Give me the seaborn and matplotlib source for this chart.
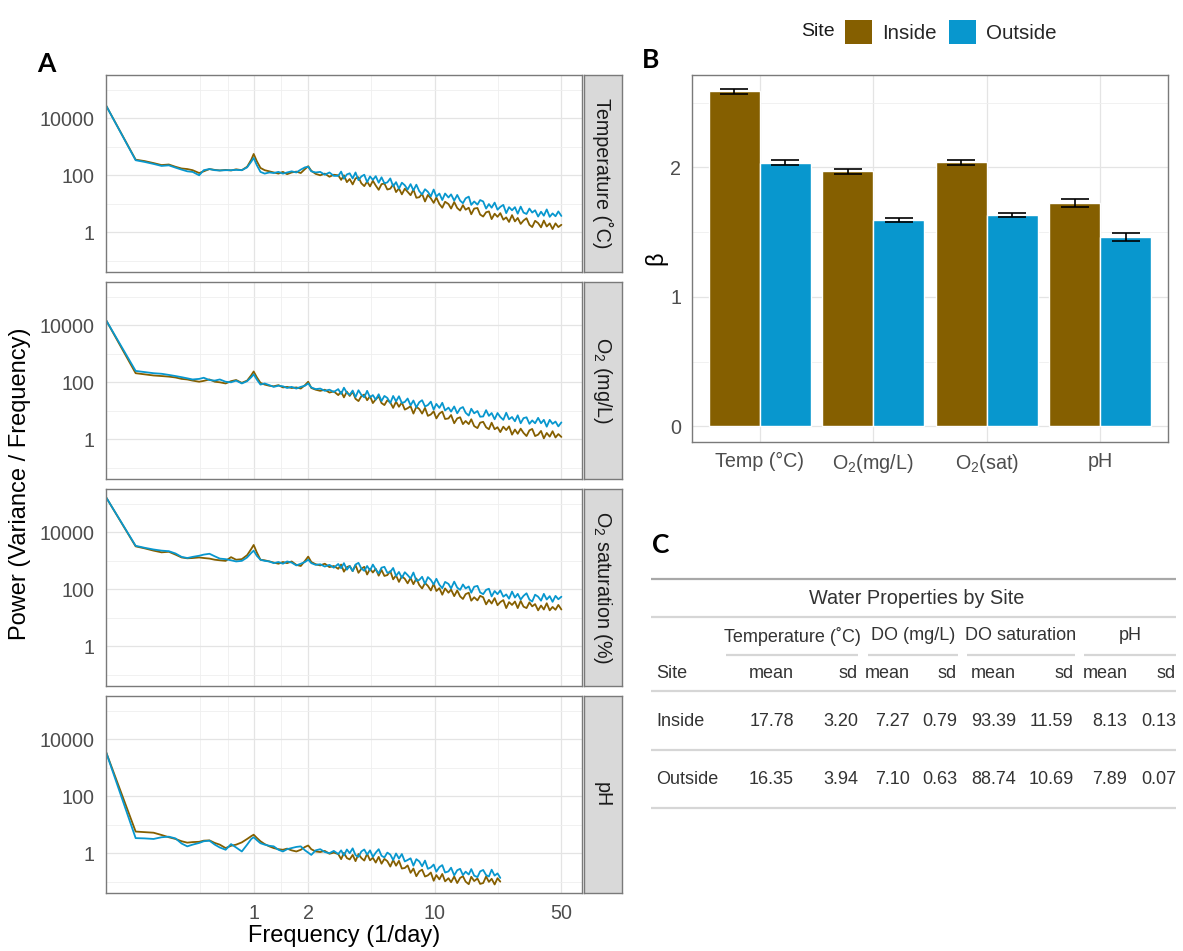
import numpy as np
import pandas as pd
import matplotlib
matplotlib.use("Agg")
import matplotlib.pyplot as plt
from matplotlib.patches import Patch
from matplotlib.ticker import FixedLocator, FixedFormatter, NullFormatter
import seaborn as sns

sns.set_theme(style="white")
plt.rcParams["font.family"] = ["Liberation Sans", "DejaVu Sans"]
plt.rcParams["mathtext.fontset"] = "custom"
plt.rcParams["mathtext.rm"] = "Liberation Sans"
plt.rcParams["mathtext.it"] = "Liberation Sans:italic"
plt.rcParams["mathtext.bf"] = "Liberation Sans:bold"

INSIDE = "#855F00"
OUTSIDE = "#0897CE"
SITES = ["Inside", "Outside"]

# ---------------------------------------------------------------- spectra
# frequency grid (1/day)
freq = [0.152, 0.223, 0.25, 0.28, 0.31, 0.34, 0.37, 0.40, 0.43, 0.46,
        0.50, 0.53, 0.57, 0.61, 0.65, 0.70, 0.75, 0.80, 0.86, 0.92,
        0.97, 1.00, 1.04, 1.09, 1.15, 1.22, 1.29, 1.37, 1.45, 1.53,
        1.62, 1.72, 1.82, 1.92, 2.00, 2.08, 2.20, 2.33, 2.47, 2.62,
        2.77,
        2.93, 3.04, 3.15, 3.27, 3.39, 3.52, 3.65, 3.79, 3.93, 4.08,
        4.23, 4.39, 4.55, 4.72, 4.90, 5.08, 5.27, 5.47, 5.68, 5.89,
        6.11, 6.34, 6.58, 6.83, 7.08, 7.35, 7.62, 7.91, 8.21, 8.51,
        8.83, 9.16, 9.51, 9.86, 10.2, 10.6, 11.0, 11.4, 11.9, 12.3,
        12.8, 13.3, 13.8, 14.3, 14.8, 15.4, 15.9, 16.5, 17.2, 17.8,
        18.5, 19.2, 19.9, 20.6, 21.4, 22.2, 23.0, 23.9, 24.8, 25.7,
        26.7, 27.7, 28.7, 29.8, 30.9, 32.1, 33.3, 34.5, 35.8, 37.2,
        38.6, 40.0, 41.5, 43.1, 44.7, 46.4, 48.1, 50.0]

# log10 of power (variance / frequency)
temp_inside = [4.49, 2.55, 2.50, 2.43, 2.36, 2.38, 2.30, 2.24, 2.22, 2.18,
               2.08, 2.14, 2.22, 2.19, 2.17, 2.19, 2.17, 2.21, 2.18, 2.30,
               2.55, 2.75, 2.50, 2.26, 2.18, 2.14, 2.10, 2.06, 2.12, 2.04,
               2.10, 2.13, 2.08, 2.22, 2.32, 2.16, 2.05, 2.00, 2.06, 1.95,
               2.02,
               2.00, 1.84, 2.00, 1.76, 1.87, 1.68, 1.89, 1.93, 1.72, 1.62,
               1.78, 1.61, 1.81, 1.64, 1.49, 1.69, 1.71, 1.50, 1.53, 1.68,
               1.41, 1.54, 1.33, 1.53, 1.42, 1.30, 1.50, 1.21, 1.23, 1.35,
               1.08, 1.31, 1.19, 1.03, 1.22, 0.99, 0.86, 1.07, 0.99, 0.83,
               1.06, 0.85, 0.76, 0.95, 0.79, 0.86, 0.63, 0.83, 0.85, 0.62,
               0.55, 0.70, 0.73, 0.46, 0.65, 0.54, 0.67, 0.44, 0.52, 0.36,
               0.60, 0.38, 0.50, 0.29, 0.41, 0.49, 0.26, 0.18, 0.40, 0.32,
               0.17, 0.41, 0.20, 0.31, 0.11, 0.31, 0.18, 0.26]
temp_outside = [4.49, 2.53, 2.47, 2.40, 2.33, 2.35, 2.27, 2.20, 2.14, 2.12,
                2.00, 2.18, 2.22, 2.18, 2.17, 2.18, 2.18, 2.19, 2.18, 2.28,
                2.48, 2.61, 2.36, 2.12, 2.06, 2.10, 2.08, 2.12, 2.06, 2.10,
                2.14, 2.10, 2.20, 2.28, 2.30, 2.14, 2.10, 2.12, 2.02, 2.10,
                1.98,
                1.98, 2.13, 1.88, 2.03, 2.07, 1.89, 2.10, 1.83, 1.96, 2.02,
                1.76, 1.96, 1.84, 1.97, 1.74, 1.93, 1.72, 1.75, 1.89, 1.61,
                1.76, 1.53, 1.74, 1.65, 1.50, 1.69, 1.47, 1.67, 1.44, 1.33,
                1.51, 1.42, 1.26, 1.50, 1.25, 1.36, 1.13, 1.36, 1.22, 1.33,
                1.11, 1.31, 1.11, 1.02, 1.19, 1.25, 0.96, 1.08, 0.97, 1.13,
                1.08, 0.83, 0.99, 0.86, 1.04, 0.79, 0.89, 0.96, 0.67, 0.88,
                0.77, 0.88, 0.65, 0.90, 0.69, 0.64, 0.83, 0.69, 0.77, 0.55,
                0.72, 0.58, 0.80, 0.54, 0.66, 0.56, 0.73, 0.57]
o2mg_inside = [4.22, 2.32, 2.28, 2.24, 2.22, 2.20, 2.17, 2.12, 2.10, 2.06,
               2.02, 2.05, 2.10, 2.02, 2.00, 1.96, 2.04, 2.08, 1.98, 2.06,
               2.25, 2.38, 2.18, 1.98, 1.92, 1.88, 1.86, 1.90, 1.82, 1.84,
               1.80, 1.82, 1.78, 1.90, 2.02, 1.80, 1.74, 1.70, 1.74, 1.64,
               1.68,
               1.55, 1.67, 1.47, 1.67, 1.52, 1.67, 1.42, 1.34, 1.51, 1.57,
               1.37, 1.51, 1.27, 1.40, 1.51, 1.27, 1.20, 1.37, 1.29, 1.10,
               1.32, 1.14, 1.29, 1.04, 1.09, 1.16, 0.90, 1.14, 1.06, 0.90,
               1.10, 0.82, 0.87, 0.98, 0.73, 0.90, 0.97, 0.71, 0.73, 0.85,
               0.56, 0.73, 0.77, 0.53, 0.64, 0.53, 0.70, 0.46, 0.39, 0.58,
               0.61, 0.42, 0.35, 0.58, 0.35, 0.42, 0.25, 0.44, 0.32, 0.45,
               0.16, 0.34, 0.19, 0.37, 0.22, 0.11, 0.31, 0.36, 0.11, 0.16,
               0.29, 0.03, 0.22, 0.09, 0.28, 0.06, 0.18, 0.08]
o2mg_outside = [4.22, 2.40, 2.36, 2.32, 2.30, 2.26, 2.22, 2.18, 2.14, 2.10,
                2.12, 2.16, 2.08, 2.06, 2.10, 2.02, 2.00, 2.06, 1.96, 2.04,
                2.18, 2.28, 2.10, 1.92, 1.96, 1.90, 1.84, 1.88, 1.86, 1.80,
                1.84, 1.78, 1.84, 1.88, 1.96, 1.82, 1.76, 1.78, 1.70, 1.74,
                1.66,
                1.76, 1.59, 1.81, 1.63, 1.56, 1.71, 1.48, 1.72, 1.56, 1.47,
                1.70, 1.47, 1.55, 1.39, 1.58, 1.34, 1.52, 1.45, 1.27, 1.52,
                1.33, 1.51, 1.27, 1.31, 1.43, 1.19, 1.36, 1.12, 1.30, 1.37,
                1.15, 1.20, 1.32, 1.04, 1.24, 1.10, 1.28, 1.01, 1.11, 0.97,
                1.15, 0.91, 1.08, 1.13, 0.93, 0.83, 1.07, 0.91, 0.99, 0.79,
                0.80, 1.02, 0.82, 0.92, 0.70, 0.92, 0.78, 0.68, 0.93, 0.70,
                0.78, 0.63, 0.84, 0.56, 0.74, 0.77, 0.54, 0.66, 0.56, 0.75,
                0.56, 0.68, 0.44, 0.68, 0.54, 0.62, 0.45, 0.59]
o2sat_inside = [5.27, 3.51, 3.44, 3.36, 3.30, 3.32, 3.22, 3.12, 3.09, 3.10,
                3.12, 3.10, 3.08, 3.04, 3.02, 3.00, 3.13, 3.04, 3.06, 3.20,
                3.42, 3.56, 3.30, 3.04, 3.02, 2.98, 2.94, 2.90, 2.96, 2.92,
                2.98, 2.86, 2.82, 3.00, 3.15, 2.96, 2.88, 2.84, 2.90, 2.78,
                2.82,
                2.72, 2.87, 2.62, 2.78, 2.82, 2.64, 2.85, 2.58, 2.72, 2.79,
                2.52, 2.72, 2.59, 2.72, 2.48, 2.68, 2.47, 2.50, 2.64, 2.35,
                2.49, 2.26, 2.46, 2.37, 2.21, 2.40, 2.18, 2.38, 2.15, 2.03,
                2.22, 2.12, 1.96, 2.19, 1.94, 2.04, 1.81, 2.03, 1.88, 1.99,
                1.76, 1.96, 1.75, 1.66, 1.83, 1.88, 1.60, 1.72, 1.61, 1.77,
                1.72, 1.47, 1.63, 1.50, 1.69, 1.44, 1.55, 1.62, 1.34, 1.55,
                1.45, 1.57, 1.34, 1.59, 1.39, 1.34, 1.54, 1.40, 1.48, 1.26,
                1.43, 1.29, 1.51, 1.26, 1.38, 1.28, 1.45, 1.29]
o2sat_outside = [5.27, 3.53, 3.46, 3.40, 3.36, 3.34, 3.26, 3.14, 3.10, 3.14,
                 3.18, 3.22, 3.25, 3.16, 3.08, 3.06, 3.02, 2.98, 3.00, 3.12,
                 3.28, 3.36, 3.18, 3.04, 3.00, 2.98, 2.92, 2.96, 2.90, 2.98,
                 2.94, 2.84, 2.90, 2.96, 3.04, 2.92, 2.86, 2.88, 2.80, 2.86,
                 2.76,
                 2.89, 2.74, 2.92, 2.69, 2.82, 2.64, 2.87, 2.93, 2.73, 2.65,
                 2.82, 2.66, 2.87, 2.70, 2.56, 2.76, 2.79, 2.58, 2.61, 2.75,
                 2.47, 2.61, 2.40, 2.60, 2.50, 2.38, 2.59, 2.30, 2.33, 2.44,
                 2.19, 2.43, 2.33, 2.17, 2.37, 2.16, 2.04, 2.26, 2.19, 2.03,
                 2.27, 2.06, 1.98, 2.17, 2.03, 2.10, 1.88, 2.09, 2.12, 1.89,
                 1.83, 1.98, 2.02, 1.75, 1.94, 1.83, 1.96, 1.74, 1.82, 1.67,
                 1.92, 1.71, 1.84, 1.64, 1.77, 1.86, 1.64, 1.57, 1.81, 1.74,
                 1.60, 1.84, 1.64, 1.76, 1.56, 1.77, 1.65, 1.74]
ph_inside = [3.61, 0.76, 0.74, 0.72, 0.64, 0.56, 0.50, 0.42, 0.37, 0.39,
             0.40, 0.44, 0.45, 0.36, 0.30, 0.18, 0.26, 0.30, 0.38, 0.50,
             0.60, 0.65, 0.54, 0.42, 0.32, 0.24, 0.18, 0.14, 0.12, 0.16,
             0.10, 0.06, 0.12, 0.22, 0.27, 0.14, 0.06, 0.04, 0.08, -0.02,
             0.02,
             -0.03, -0.21, 0.01, -0.17, -0.22, -0.06, -0.28, -0.03, -0.17, -0.26,
             -0.02, -0.25, -0.16, -0.33, -0.13, -0.37, -0.20, -0.28, -0.47, -0.24,
             -0.44, -0.27, -0.54, -0.52, -0.43, -0.69, -0.54, -0.81, -0.64, -0.58,
             -0.82, -0.78, -0.68, -0.97, -0.77, -0.92, -0.73, -0.99, -0.88, -1.02,
             -0.82, -1.05, -0.87, -0.81, -1.00, -1.09, -0.83, -0.98, -0.89, -1.08,
             -1.05, -0.82, -1.01, -0.90, -1.10, -0.88, -1.00]
ph_outside = [3.61, 0.53, 0.52, 0.50, 0.56, 0.58, 0.52, 0.34, 0.24, 0.30,
              0.36, 0.42, 0.44, 0.30, 0.20, 0.12, 0.32, 0.20, 0.06, 0.30,
              0.50, 0.56, 0.46, 0.35, 0.30, 0.26, 0.24, 0.12, 0.06, 0.14,
              0.18, 0.22, 0.24, 0.10, 0.02, -0.06, 0.10, 0.14, 0.04, 0.00,
              0.08,
              -0.03, 0.10, -0.08, 0.13, 0.00, 0.17, -0.07, -0.13, 0.06, 0.13,
              -0.05, 0.10, -0.13, 0.02, 0.14, -0.09, -0.15, 0.02, -0.05, -0.24,
              -0.01, -0.19, -0.03, -0.29, -0.24, -0.18, -0.44, -0.21, -0.29, -0.46,
              -0.26, -0.55, -0.50, -0.40, -0.65, -0.49, -0.42, -0.68, -0.64, -0.51,
              -0.78, -0.60, -0.55, -0.77, -0.65, -0.75, -0.56, -0.79, -0.84, -0.64,
              -0.59, -0.77, -0.82, -0.58, -0.79, -0.71, -0.87]

facets = ["Temperature (˚C)", r"O$_\mathregular{2}$ (mg/L)",
          r"O$_\mathregular{2}$ saturation (%)", "pH"]
spectra = {
    facets[0]: (temp_inside, temp_outside),
    facets[1]: (o2mg_inside, o2mg_outside),
    facets[2]: (o2sat_inside, o2sat_outside),
    facets[3]: (ph_inside, ph_outside),
}

rows = []
for var, series in spectra.items():
    for site, vals in zip(SITES, series):
        for f, v in zip(freq, vals):
            rows.append((var, site, f, 10.0 ** v))
spec_df = pd.DataFrame(rows, columns=["variable", "site", "freq", "power"])

# ---------------------------------------------------------------- beta
beta_vars = ["Temp (°C)", r"O$_\mathregular{2}$(mg/L)", r"O$_\mathregular{2}$(sat)", "pH"]
beta_inside = [2.587, 1.969, 2.039, 1.726]
beta_outside = [2.037, 1.594, 1.633, 1.461]
se_inside = [0.018, 0.016, 0.017, 0.028]
se_outside = [0.018, 0.016, 0.018, 0.030]
beta_df = pd.DataFrame({
    "variable": beta_vars * 2,
    "site": ["Inside"] * 4 + ["Outside"] * 4,
    "beta": beta_inside + beta_outside,
})

# ---------------------------------------------------------------- table
table_sites = ["Inside", "Outside"]
temp_mean = [17.78, 16.35]
temp_sd = [3.20, 3.94]
do_mean = [7.27, 7.10]
do_sd = [0.79, 0.63]
dosat_mean = [93.39, 88.74]
dosat_sd = [11.59, 10.69]
ph_mean = [8.13, 7.89]
ph_sd = [0.13, 0.07]

# ---------------------------------------------------------------- figure
W, H = 1183, 951
fig = plt.figure(figsize=(W / 100, H / 100), dpi=100)
fig.patch.set_facecolor("white")


def px_axes(x0, y0, x1, y1):
    return fig.add_axes([x0 / W, 1 - y1 / H, (x1 - x0) / W, (y1 - y0) / H])


SPINE = "#7A7A7A"
TICKTXT = "#4D4D4D"
palette = {"Inside": INSIDE, "Outside": OUTSIDE}

panel_tops = [75, 282, 489, 696]
panel_h = 197
for i, var in enumerate(facets):
    top = panel_tops[i]
    ax = px_axes(105.5, top, 582.4, top + panel_h)
    ax.set_xscale("log")
    ax.set_yscale("log")
    sns.lineplot(data=spec_df[spec_df["variable"] == var], x="freq", y="power",
                 hue="site", hue_order=SITES, palette=palette, estimator=None,
                 linewidth=1.3, legend=False, ax=ax)
    ax.set_xlim(freq[0], 10 ** 1.815)
    ax.set_ylim(10 ** -1.40, 10 ** 5.527)
    ax.xaxis.set_major_locator(FixedLocator([1, 2, 10, 50]))
    ax.xaxis.set_major_formatter(FixedFormatter(["1", "2", "10", "50"]))
    ax.xaxis.set_minor_locator(FixedLocator([0.506, 0.718, 1.414, 4.472, 22.36]))
    ax.xaxis.set_minor_formatter(NullFormatter())
    ax.yaxis.set_major_locator(FixedLocator([1, 100, 10000]))
    ax.yaxis.set_major_formatter(FixedFormatter(["1", "100", "10000"]))
    ax.yaxis.set_minor_locator(FixedLocator([0.1, 10, 1000, 100000]))
    ax.yaxis.set_minor_formatter(NullFormatter())
    ax.grid(True, which="major", color="#E4E4E4", lw=0.9)
    ax.grid(True, which="minor", color="#EFEFEF", lw=0.6)
    ax.set_axisbelow(True)
    ax.tick_params(which="minor", length=0)
    ax.tick_params(which="major", length=4.3, width=0.9, color="#333333",
                   labelsize=14.2, labelcolor=TICKTXT, pad=3.4)
    if i < 3:
        ax.tick_params(axis="x", which="major", length=0, labelbottom=False)
    ax.set_xlabel("")
    ax.set_ylabel("")
    for s in ax.spines.values():
        s.set_color(SPINE)
        s.set_linewidth(1.0)

    sax = px_axes(583.5, top, 621.7, top + panel_h)
    sax.set_facecolor("#D9D9D9")
    sax.set_xticks([])
    sax.set_yticks([])
    for s in sax.spines.values():
        s.set_color(SPINE)
        s.set_linewidth(1.0)
    sax.text(0.5, 0.5, var, rotation=-90, ha="center", va="center",
             fontsize=14.2, color="#1A1A1A", transform=sax.transAxes)

# ---------------------------------------------------------------- panel B
axB = px_axes(691.7, 75, 1168.3, 441.7)
sns.barplot(data=beta_df, x="variable", y="beta", hue="site", order=beta_vars,
            hue_order=SITES, palette=palette, width=0.9, saturation=1,
            errorbar=None, legend=False, ax=axB)
for cont, se in zip(axB.containers, [se_inside, se_outside]):
    xs = [b.get_x() + b.get_width() / 2 for b in cont]
    ys = [b.get_height() for b in cont]
    axB.errorbar(xs, ys, yerr=se, fmt="none", ecolor="black", elinewidth=1.2,
                 capsize=10, capthick=1.2, zorder=5)
axB.set_xlim(-0.6, 3.6)
axB.set_ylim(-0.119, 2.714)
axB.set_yticks([0, 1, 2])
axB.set_yticklabels(["0", "1", "2"])
axB.yaxis.set_minor_locator(FixedLocator([0.5, 1.5, 2.5]))
axB.grid(True, which="major", color="#E4E4E4", lw=0.9)
axB.grid(True, which="minor", axis="y", color="#EFEFEF", lw=0.6)
axB.set_axisbelow(True)
axB.tick_params(which="minor", length=0)
axB.tick_params(which="major", length=4.3, width=0.9, color="#333333",
                labelsize=14.2, labelcolor=TICKTXT, pad=3.4)
axB.set_xlabel("")
axB.set_ylabel("")
for s in axB.spines.values():
    s.set_color(SPINE)
    s.set_linewidth(1.0)

handles = [Patch(facecolor=INSIDE, edgecolor="none"),
           Patch(facecolor=OUTSIDE, edgecolor="none")]
fig.legend(handles, SITES, loc="center left", bbox_to_anchor=(845 / W, 1 - 32 / H),
           ncol=2, frameon=False, fontsize=14.8, handlelength=1.3,
           handleheight=1.35, handletextpad=0.5, columnspacing=0.6,
           borderaxespad=0, borderpad=0)

# ---------------------------------------------------------------- overlay text
axT = fig.add_axes([0, 0, 1, 1])
axT.set_xlim(0, W)
axT.set_ylim(H, 0)
axT.axis("off")

axT.text(835, 32, "Site", ha="right", va="center", fontsize=14, color="#1A1A1A")
for lab, x, y in [("A", 46, 64), ("B", 651, 60), ("C", 661, 545)]:
    axT.text(x, y, lab, ha="center", va="center", fontsize=19, fontweight="bold",
             family=["Lato", "DejaVu Sans"], color="black")
axT.text(20, 483.5, "Power (Variance / Frequency)", rotation=90, ha="center",
         va="center", fontsize=17, color="black")
axT.text(344, 936, "Frequency (1/day)", ha="center", va="center", fontsize=17,
         color="black")
axT.text(656, 258, "β", rotation=90, ha="center", va="center", fontsize=17,
         color="black")

# table
TXT = "#333333"
LIGHT = "#D6D6D6"


def hline(y, x0, x1, color, lw=1.6):
    axT.plot([x0, x1], [y, y], color=color, lw=lw, solid_capstyle="butt")


hline(579.3, 651, 1176, "#A8A8A8")
axT.text(917, 599, "Water Properties by Site", ha="center", va="center",
         fontsize=14.3, color=TXT)
hline(617, 651, 1176, LIGHT)
spanners = [("Temperature (˚C)", 726, 858), ("DO (mg/L)", 868, 958),
            ("DO saturation", 967, 1075), ("pH", 1084, 1176)]
for lab, a, b in spanners:
    axT.text((a + b) / 2, 636, lab, ha="center", va="center", fontsize=13, color=TXT)
    hline(655, a, b, LIGHT)
col_right = [794, 858, 910, 957, 1016, 1073.5, 1127.5, 1176]
axT.text(656.6, 673, "Site", ha="left", va="center", fontsize=13, color=TXT)
for j, x in enumerate(col_right):
    axT.text(x, 673, "mean" if j % 2 == 0 else "sd", ha="right", va="center",
             fontsize=13, color=TXT)
hline(691, 651, 1176, LIGHT)
cols = [temp_mean, temp_sd, do_mean, do_sd, dosat_mean, dosat_sd, ph_mean, ph_sd]
for r, (site, y) in enumerate(zip(table_sites, [721, 779])):
    axT.text(656.6, y, site, ha="left", va="center", fontsize=13, color=TXT)
    for x, col in zip(col_right, cols):
        axT.text(x, y, f"{col[r]:.2f}", ha="right", va="center", fontsize=13, color=TXT)
hline(750, 651, 1176, LIGHT)
hline(808, 651, 1176, LIGHT)

fig.savefig("out.png", dpi=100)
